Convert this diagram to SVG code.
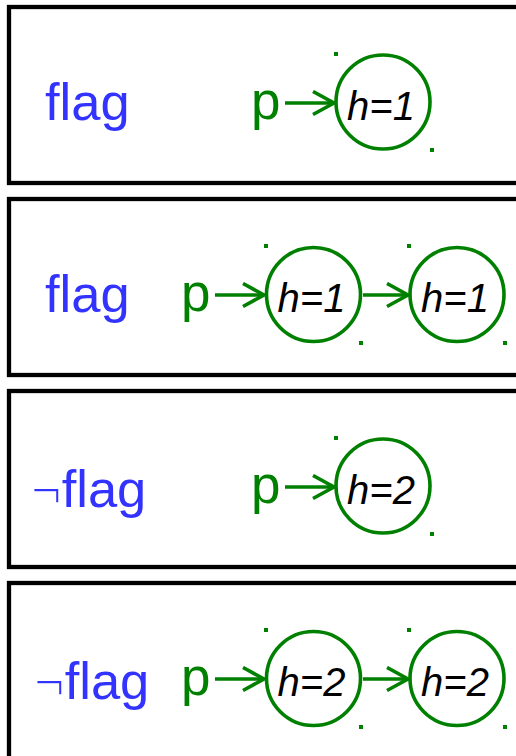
<svg xmlns="http://www.w3.org/2000/svg" width="516" height="756" viewBox="0 0 516 756">
<defs>
<style>
.panel{fill:#fff;stroke:#000;stroke-width:4.3}
.flag{font-family:"Liberation Sans",Arial,sans-serif;font-size:52.5px;fill:#3333ff}
.neg{stroke:#fff;stroke-width:1.6}
.p{font-family:"Liberation Sans",Arial,sans-serif;font-size:53px;fill:#008000}
.node{fill:none;stroke:#008000;stroke-width:3.6}
.h{font-family:"Liberation Sans",Arial,sans-serif;font-style:italic;font-size:40px;fill:#000;text-anchor:middle}
.ln{stroke:#008000;stroke-width:3.6;fill:none}
.dot{fill:#008000}
</style>
<marker id="ah" markerUnits="userSpaceOnUse" markerWidth="26" markerHeight="30" refX="22" refY="13" orient="auto">
<path d="M1,1.5 L22,13 L1,24.5" fill="none" stroke="#008000" stroke-width="3.6"/>
</marker>
</defs>
<rect width="516" height="756" fill="#fff"/>
<g id="panel1">
<rect class="panel" x="9" y="7" width="520" height="176"/>
<text class="flag" x="45" y="120">flag</text>
</g>
<g id="panel2">
<rect class="panel" x="9" y="199" width="520" height="176"/>
<text class="flag" x="45" y="312">flag</text>
</g>
<g id="panel3">
<rect class="panel" x="9" y="391" width="520" height="176"/>
<text class="flag" x="31" y="507"><tspan class="neg">¬</tspan>flag</text>
</g>
<g id="panel4">
<rect class="panel" x="9" y="583" width="520" height="190"/>
<text class="flag" x="34" y="699"><tspan class="neg">¬</tspan>flag</text>
</g>

<g id="p1"><text class="p" x="251" y="119">p</text></g>
<g id="n1a">
<circle class="node" cx="383" cy="102" r="47"/>
<text class="h" x="381" y="120">h=1</text>
<rect class="dot" x="334" y="52" width="4" height="4"/><rect class="dot" x="430" y="148" width="4" height="4"/>
</g>

<g id="p2"><text class="p" x="181" y="311">p</text></g>
<g id="n2a">
<circle class="node" cx="313.5" cy="294.5" r="47"/>
<text class="h" x="311.5" y="312">h=1</text>
<rect class="dot" x="264" y="244" width="4" height="4"/><rect class="dot" x="359" y="341" width="4" height="4"/>
</g>
<g id="n2b">
<circle class="node" cx="457" cy="294.5" r="47"/>
<text class="h" x="455" y="312">h=1</text>
<rect class="dot" x="407" y="244" width="4" height="4"/><rect class="dot" x="503" y="341" width="4" height="4"/>
</g>

<g id="p3"><text class="p" x="251" y="503">p</text></g>
<g id="n3a">
<circle class="node" cx="383" cy="486" r="47"/>
<text class="h" x="381" y="504">h=2</text>
<rect class="dot" x="334" y="436" width="4" height="4"/><rect class="dot" x="430" y="532" width="4" height="4"/>
</g>

<g id="p4"><text class="p" x="181" y="695">p</text></g>
<g id="n4a">
<circle class="node" cx="313.5" cy="678.5" r="47"/>
<text class="h" x="311.5" y="696">h=2</text>
<rect class="dot" x="264" y="628" width="4" height="4"/><rect class="dot" x="359" y="725" width="4" height="4"/>
</g>
<g id="n4b">
<circle class="node" cx="457" cy="678.5" r="47"/>
<text class="h" x="455" y="696">h=2</text>
<rect class="dot" x="407" y="628" width="4" height="4"/><rect class="dot" x="503" y="725" width="4" height="4"/>
</g>

<g id="connectors">
<line class="ln" x1="285" y1="103" x2="334" y2="103" marker-end="url(#ah)"/>
<line class="ln" x1="215" y1="295" x2="264" y2="295" marker-end="url(#ah)"/>
<line class="ln" x1="363" y1="295" x2="408" y2="295" marker-end="url(#ah)"/>
<line class="ln" x1="285" y1="487" x2="334" y2="487" marker-end="url(#ah)"/>
<line class="ln" x1="215" y1="679" x2="264" y2="679" marker-end="url(#ah)"/>
<line class="ln" x1="363" y1="679" x2="408" y2="679" marker-end="url(#ah)"/>
</g>
</svg>
